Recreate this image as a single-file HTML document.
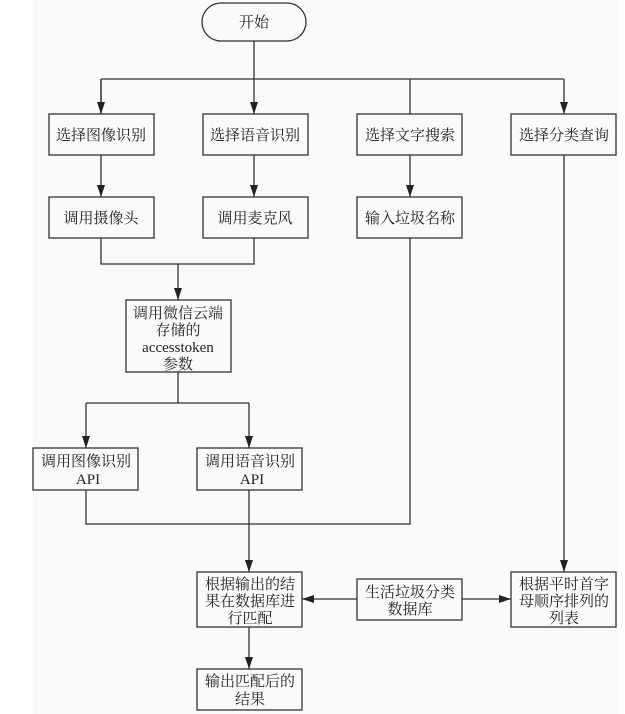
<!DOCTYPE html>
<html><head><meta charset="utf-8"><style>
html,body{margin:0;padding:0;background:#fff;}
svg{display:block;}
text{font-family:"Liberation Serif","Noto Serif CJK SC","Noto Sans CJK SC",serif;font-size:15px;fill:#222;text-anchor:middle;}
.b{fill:#fafafa;stroke:#333;stroke-width:1.3;}
.l{stroke:#333;stroke-width:1.3;fill:none;}
</style></head><body>
<svg width="625" height="714" viewBox="0 0 625 714" xmlns="http://www.w3.org/2000/svg">
<defs><marker id="a" markerWidth="8" markerHeight="12" refX="4" refY="12" orient="auto" markerUnits="userSpaceOnUse" viewBox="0 0 8 12"><path d="M0,0 L8,0 L4,12 z" fill="#222" transform="rotate(0)"/></marker>
<marker id="h" markerWidth="12" markerHeight="8" refX="12" refY="4" orient="auto-start-reverse" markerUnits="userSpaceOnUse"><path d="M0,0 L12,4 L0,8 z" fill="#222"/></marker></defs>
<rect width="625" height="714" fill="#fff"/>
<rect x="33" y="0" width="585" height="714" fill="#fafafa"/>
<!-- start -->
<rect class="b" x="202" y="3" width="104" height="38" rx="19"/>
<text x="254" y="27">开始</text>
<path class="l" d="M254 41V79M101 79H564"/>
<path class="l" d="M101 79V114" marker-end="url(#h)" style="marker-end:none"/>
<line class="l" x1="101" y1="79" x2="101" y2="114"/>
<line class="l" x1="254" y1="79" x2="254" y2="114"/>
<line class="l" x1="410" y1="79" x2="410" y2="114"/>
<line class="l" x1="564" y1="79" x2="564" y2="114"/>
<path d="M97 102L105 102L101 114z M250 102L258 102L254 114z M560 102L568 102L564 114z" fill="#222"/>
<!-- row1 -->
<rect class="b" x="49" y="114" width="105" height="41"/><text x="101" y="140">选择图像识别</text>
<rect class="b" x="203" y="114" width="105" height="41"/><text x="255" y="140">选择语音识别</text>
<rect class="b" x="357" y="114" width="105" height="41"/><text x="410" y="140">选择文字搜索</text>
<rect class="b" x="511" y="114" width="105" height="41"/><text x="564" y="140">选择分类查询</text>
<!-- arrows to row2 -->
<path class="l" d="M101 155V197M254 155V197M410 155V197"/>
<path d="M97 185L105 185L101 197z M250 185L258 185L254 197z M406 185L414 185L410 197z" fill="#222"/>
<rect class="b" x="49" y="197" width="105" height="41"/><text x="101" y="223">调用摄像头</text>
<rect class="b" x="203" y="197" width="105" height="41"/><text x="255" y="223">调用麦克风</text>
<rect class="b" x="357" y="197" width="105" height="41"/><text x="410" y="223">输入垃圾名称</text>
<!-- join -->
<path class="l" d="M101 238V264H254V238M178 264V300"/>
<path d="M174 288L182 288L178 300z" fill="#222"/>
<rect class="b" x="126" y="300" width="105" height="72"/>
<text x="178" y="318">调用微信云端</text>
<text x="178" y="335">存储的</text>
<text x="178" y="352">accesstoken</text>
<text x="178" y="369">参数</text>
<path class="l" d="M178 372V403M86 403H249M86 403V448M249 403V448"/>
<path d="M82 436L90 436L86 448z M245 436L253 436L249 448z" fill="#222"/>
<rect class="b" x="33" y="448" width="105" height="42"/><text x="86" y="466">调用图像识别</text><text x="88" y="484">API</text>
<rect class="b" x="197" y="448" width="105" height="42"/><text x="250" y="466">调用语音识别</text><text x="252" y="484">API</text>
<path class="l" d="M86 490V524H410V238M249 490V572M564 155V572"/>
<path d="M245 560L253 560L249 572z M560 560L568 560L564 572z" fill="#222"/>
<rect class="b" x="197" y="572" width="105" height="55"/>
<text x="250" y="589">根据输出的结</text><text x="250" y="606">果在数据库进</text><text x="250" y="623">行匹配</text>
<rect class="b" x="357" y="579" width="105" height="41"/>
<text x="410" y="597">生活垃圾分类</text><text x="410" y="614">数据库</text>
<rect class="b" x="511" y="572" width="105" height="55"/>
<text x="564" y="589">根据平时首字</text><text x="564" y="606">母顺序排列的</text><text x="564" y="623">列表</text>
<path class="l" d="M302 599H357M462 599H511"/>
<path d="M302 599L314 595L314 603z M511 599L499 595L499 603z" fill="#222"/>
<path class="l" d="M249 627V669"/>
<path d="M245 657L253 657L249 669z" fill="#222"/>
<rect class="b" x="197" y="669" width="105" height="41"/>
<text x="250" y="686">输出匹配后的</text><text x="250" y="704">结果</text>
</svg>
</body></html>
